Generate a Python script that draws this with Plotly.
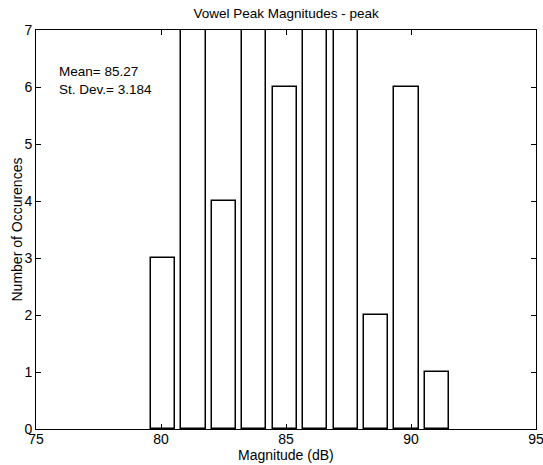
import plotly.graph_objects as go

# Histogram of vowel peak magnitudes (10 bins)
bin_centers = [80.08, 81.30, 82.52, 83.73, 84.95, 86.17, 87.39, 88.61, 89.82, 91.04]
counts = [3, 9, 4, 8, 6, 10, 8, 2, 6, 1]
bin_width = 1.218
bar_fraction = 0.8

x_ticks = [75, 80, 85, 90, 95]
y_ticks = [0, 1, 2, 3, 4, 5, 6, 7]

mean_label = "Mean= 85.27"
std_label = "St. Dev.= 3.184"

FONT = "Liberation Sans, Arial, Helvetica, sans-serif"

fig = go.Figure()
fig.add_trace(go.Bar(
    x=bin_centers,
    y=counts,
    width=bin_width * bar_fraction,
    marker=dict(color="white", line=dict(color="black", width=1.5)),
    showlegend=False,
))

axis_common = dict(
    showline=True, linecolor="black", linewidth=1,
    mirror="ticks", ticks="inside", ticklen=5, tickwidth=1, tickcolor="black",
    showgrid=False, zeroline=False, automargin=False,
    ticklabeloverflow="allow",
    tickfont=dict(family=FONT, size=14, color="black"),
)

fig.update_xaxes(range=[75, 95], tickvals=x_ticks, ticktext=[str(v) for v in x_ticks],
                 ticklabelstandoff=-3, **axis_common)
fig.update_yaxes(range=[0, 7], tickvals=y_ticks, ticktext=[str(v) for v in y_ticks],
                 **axis_common)

fig.update_layout(
    width=543, height=465,
    margin=dict(l=36, r=7, t=30, b=36),
    paper_bgcolor="white", plot_bgcolor="white",
    font=dict(family=FONT, size=14, color="black"),
    bargap=0,
    title=dict(text="Vowel Peak Magnitudes - peak", x=0.527, xanchor="center",
               y=1 - 13 / 465, yanchor="middle",
               font=dict(family=FONT, size=13.5, color="black")),
    annotations=[
        dict(text="Magnitude (dB)", xref="paper", yref="paper", x=0.5, y=0,
             xanchor="center", yanchor="top", yshift=-16, showarrow=False,
             font=dict(family=FONT, size=14, color="black")),
        dict(text="Number of Occurences", xref="paper", yref="paper", x=0, y=0.5,
             xanchor="center", yanchor="middle", xshift=-20, textangle=-90, showarrow=False,
             font=dict(family=FONT, size=14, color="black")),
        dict(text=mean_label, xref="x", yref="y", x=75.85, y=6.28,
             xanchor="left", yanchor="middle", showarrow=False,
             font=dict(family=FONT, size=13.5, color="black")),
        dict(text=std_label, xref="x", yref="y", x=75.85, y=5.95,
             xanchor="left", yanchor="middle", showarrow=False,
             font=dict(family=FONT, size=13.5, color="black")),
    ],
)

fig.write_html("out.html")
